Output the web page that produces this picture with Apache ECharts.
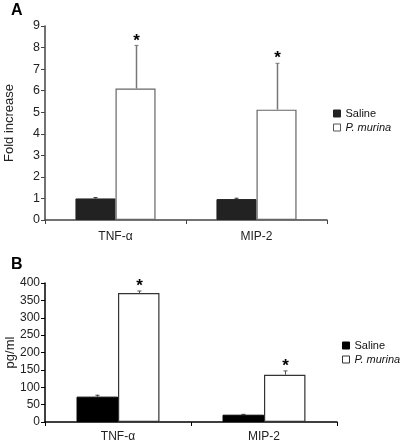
<!DOCTYPE html>
<html><head><meta charset="utf-8">
<script src="https://cdn.jsdelivr.net/npm/echarts@6/dist/echarts.min.js"></script>
<style>html,body{margin:0;padding:0;background:#fff}#c{width:400px;height:443px}</style>
</head><body><div id="c"></div>
<script>
// ---- data ----
const categories = ['TNF-α', 'MIP-2'];
const seriesNames = ['Saline', 'P. murina'];
// Panel A: fold increase
const foldSaline = [1.0, 0.97];
const foldSalineErr = [0.04, 0.04];
const foldMurina = [6.1, 5.12];
const foldMurinaErr = [2.0, 2.15];
const foldTicks = [0, 1, 2, 3, 4, 5, 6, 7, 8, 9];
// Panel B: pg/ml
const pgSaline = [73, 21];
const pgSalineErr = [4, 1];
const pgMurina = [371, 136];
const pgMurinaErr = [6, 11];
const pgTicks = [0, 50, 100, 150, 200, 250, 300, 350, 400];
const significance = ['*', '*'];

const FONT = '"Liberation Sans", Arial, sans-serif';
const BAR_FRAC = 0.284;

function errData(vals, errs, side, marks) {
  return vals.map((v, i) => [i, v, errs[i], side, marks ? (marks[i] ? 1 : 0) : 0]);
}
function errRender(color, lw) {
  return function (params, api) {
    const idx = api.value(0), v = api.value(1), e = api.value(2), side = api.value(3), mark = api.value(4);
    const base = api.coord([idx, v]);
    const top = api.coord([idx, v + e]);
    const bw = api.size([1, 0])[0];
    const x = Math.round(base[0] + side * bw * BAR_FRAC / 2) + 0.5;
    const children = [
      { type: 'line', shape: { x1: x, y1: base[1], x2: x, y2: top[1] }, style: { stroke: color, lineWidth: lw } },
      { type: 'line', shape: { x1: x - 2, y1: top[1], x2: x + 2, y2: top[1] }, style: { stroke: color, lineWidth: 1 } }
    ];
    if (mark) {
      children.push({ type: 'text', style: { text: '*', x: x, y: top[1] + 4, align: 'center', verticalAlign: 'bottom',
        font: 'bold 17px ' + FONT, fill: '#000' } });
    }
    return { type: 'group', children: children };
  };
}

const legendFmt = n => n === 'P. murina' ? '{i|P. murina}' : n;
const legendRich = { i: { fontStyle: 'italic', fontSize: 11, fontFamily: FONT, color: '#111' } };

const chart = echarts.init(document.getElementById('c'), null, { renderer: 'canvas' });
chart.setOption({
  animation: false,
  backgroundColor: '#fff',
  textStyle: { fontFamily: FONT },
  graphic: [
    { type: 'text', left: 11, top: 3, style: { text: 'A', font: 'bold 16px ' + FONT, fill: '#000' } },
    { type: 'text', left: 11, top: 257, style: { text: 'B', font: 'bold 16px ' + FONT, fill: '#000' } }
  ],
  legend: [
    { orient: 'vertical', left: 333, top: 108, padding: 0, itemGap: 3, itemWidth: 7, itemHeight: 7,
      icon: 'rect', formatter: legendFmt,
      textStyle: { fontSize: 11, color: '#111', fontFamily: FONT, rich: legendRich },
      data: [ { name: 'Saline', itemStyle: { color: '#222', borderColor: '#222', borderWidth: 1 } },
              { name: 'P. murina', itemStyle: { color: '#fff', borderColor: '#555', borderWidth: 1 } } ] },
    { orient: 'vertical', left: 342, top: 340, padding: 0, itemGap: 3, itemWidth: 7, itemHeight: 7,
      icon: 'rect', formatter: legendFmt,
      textStyle: { fontSize: 11, color: '#111', fontFamily: FONT, rich: legendRich },
      data: [ { name: 'Saline', itemStyle: { color: '#000', borderColor: '#000', borderWidth: 1 } },
              { name: 'P. murina', itemStyle: { color: '#fff', borderColor: '#333', borderWidth: 1 } } ] }
  ],
  grid: [
    { left: 45, top: 26, width: 282, height: 194, containLabel: false, outerBoundsMode: 'none' },
    { left: 45, top: 283, width: 292, height: 139, containLabel: false, outerBoundsMode: 'none' }
  ],
  xAxis: [0, 1].map(g => ({
    type: 'category', gridIndex: g, data: categories,
    axisLine: { lineStyle: { color: g === 0 ? '#444' : '#000', width: 1.5 } },
    axisTick: { show: true, length: 4, lineStyle: { color: g === 0 ? '#444' : '#000' } },
    axisLabel: { color: '#222', fontSize: 12, margin: g === 0 ? 11 : 9, fontFamily: FONT }
  })),
  yAxis: [
    { type: 'value', gridIndex: 0, min: 0, max: 9, interval: 1, name: 'Fold increase',
      nameLocation: 'middle', nameGap: 29, nameMoveOverlap: false,
      nameTextStyle: { fontSize: 13, color: '#222', fontFamily: FONT },
      splitLine: { show: false },
      axisLine: { show: true, lineStyle: { color: '#444', width: 1.5 } },
      axisTick: { show: true, length: 4, lineStyle: { color: '#444' } },
      axisLabel: { color: '#222', fontSize: 12.5, margin: 5, fontFamily: FONT } },
    { type: 'value', gridIndex: 1, min: 0, max: 400, interval: 50, name: 'pg/ml',
      nameLocation: 'middle', nameGap: 28, nameMoveOverlap: false,
      nameTextStyle: { fontSize: 13, color: '#222', fontFamily: FONT },
      splitLine: { show: false },
      axisLine: { show: true, lineStyle: { color: '#000', width: 1.5 } },
      axisTick: { show: true, length: 4, lineStyle: { color: '#000' } },
      axisLabel: { color: '#222', fontSize: 12, margin: 5, fontFamily: FONT } }
  ],
  series: [
    { name: 'Saline', type: 'bar', xAxisIndex: 0, yAxisIndex: 0, data: foldSaline,
      barWidth: (BAR_FRAC * 100) + '%', barGap: '0%',
      itemStyle: { color: '#222', borderColor: '#222', borderWidth: 1 } },
    { name: 'P. murina', type: 'bar', xAxisIndex: 0, yAxisIndex: 0, data: foldMurina,
      barWidth: (BAR_FRAC * 100) + '%', barGap: '0%',
      itemStyle: { color: '#fff', borderColor: '#666', borderWidth: 1.2 } },
    { type: 'custom', xAxisIndex: 0, yAxisIndex: 0, renderItem: errRender('#333', 1),
      data: errData(foldSaline, foldSalineErr, -1), encode: { x: 0, y: 1 }, z: 5 },
    { type: 'custom', xAxisIndex: 0, yAxisIndex: 0, renderItem: errRender('#777', 1.5),
      data: errData(foldMurina, foldMurinaErr, 1, significance), encode: { x: 0, y: 1 }, z: 5 },

    { name: 'Saline', type: 'bar', xAxisIndex: 1, yAxisIndex: 1, data: pgSaline,
      barWidth: (BAR_FRAC * 100) + '%', barGap: '0%',
      itemStyle: { color: '#000', borderColor: '#000', borderWidth: 1 } },
    { name: 'P. murina', type: 'bar', xAxisIndex: 1, yAxisIndex: 1, data: pgMurina,
      barWidth: (BAR_FRAC * 100) + '%', barGap: '0%',
      itemStyle: { color: '#fff', borderColor: '#333', borderWidth: 1.2 } },
    { type: 'custom', xAxisIndex: 1, yAxisIndex: 1, renderItem: errRender('#333', 1),
      data: errData(pgSaline, pgSalineErr, -1), encode: { x: 0, y: 1 }, z: 5 },
    { type: 'custom', xAxisIndex: 1, yAxisIndex: 1, renderItem: errRender('#555', 1),
      data: errData(pgMurina, pgMurinaErr, 1, significance), encode: { x: 0, y: 1 }, z: 5 }
  ]
});
</script></body></html>
